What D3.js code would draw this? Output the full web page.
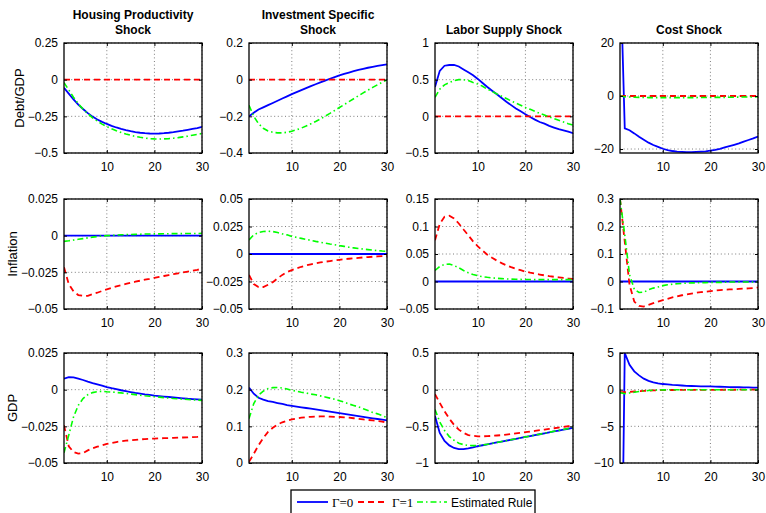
<!DOCTYPE html>
<html>
<head>
<meta charset="utf-8">
<script src="https://cdn.jsdelivr.net/npm/d3@7/dist/d3.min.js"></script>
<style>
  body { margin: 0; background: #fff; }
  svg { font-family: "Liberation Sans", Arial, Helvetica, sans-serif; }
</style>
</head>
<body>
<div id="chart"></div>
<script>
// ── Data ──────────────────────────────────────────────────────────────────────
const periods = [1,2,3,4,5,6,7,8,9,10,11,12,13,14,15,16,17,18,19,20,21,22,23,24,25,26,27,28,29,30];

const shockTitles = [
  ['Housing Productivity', 'Shock'],
  ['Investment Specific', 'Shock'],
  ['Labor Supply Shock'],
  ['Cost Shock']
];
const variableNames = ['Debt/GDP', 'Inflation', 'GDP'];
const seriesNames = ['\u0393=0', '\u0393=1', 'Estimated Rule'];

// y limits and ticks, row by row (Debt/GDP, Inflation, GDP), column by column
const yLimits = [
  [[-0.5, 0.25], [-0.4, 0.2], [-0.5, 1], [-21.5, 20]],
  [[-0.05, 0.025], [-0.05, 0.05], [-0.05, 0.15], [-0.1, 0.3]],
  [[-0.05, 0.025], [0, 0.3], [-1, 0.5], [-10, 5]]
];
const yTicks = [
  [[-0.5, -0.25, 0, 0.25], [-0.4, -0.2, 0, 0.2], [-0.5, 0, 0.5, 1], [-20, 0, 20]],
  [[-0.05, -0.025, 0, 0.025], [-0.05, -0.025, 0, 0.025, 0.05], [-0.05, 0, 0.05, 0.1, 0.15], [-0.1, 0, 0.1, 0.2, 0.3]],
  [[-0.05, -0.025, 0, 0.025], [0, 0.1, 0.2, 0.3], [-1, -0.5, 0, 0.5], [-10, -5, 0, 5]]
];
const xTicks = [10, 20, 30];

const flatZero = [0,0,0,0,0,0,0,0,0,0,0,0,0,0,0,0,0,0,0,0,0,0,0,0,0,0,0,0,0,0];

// Debt/GDP
const debtHousingG0  = [-0.055,-0.095,-0.135,-0.17,-0.2,-0.228,-0.252,-0.272,-0.288,-0.302,-0.315,-0.326,-0.336,-0.344,-0.351,-0.357,-0.362,-0.365,-0.367,-0.368,-0.367,-0.365,-0.362,-0.358,-0.353,-0.348,-0.342,-0.336,-0.33,-0.322];
const debtHousingG1  = flatZero;
const debtHousingEst = [-0.02,-0.07,-0.12,-0.165,-0.2,-0.232,-0.26,-0.283,-0.303,-0.32,-0.335,-0.348,-0.36,-0.37,-0.379,-0.387,-0.393,-0.398,-0.402,-0.404,-0.405,-0.404,-0.402,-0.399,-0.395,-0.39,-0.385,-0.379,-0.373,-0.367];

const debtInvestG0  = [-0.2,-0.18,-0.163,-0.151,-0.139,-0.127,-0.115,-0.103,-0.091,-0.079,-0.068,-0.057,-0.046,-0.035,-0.025,-0.015,-0.005,0.005,0.014,0.023,0.031,0.039,0.046,0.053,0.059,0.065,0.07,0.075,0.079,0.083];
const debtInvestG1  = flatZero;
const debtInvestEst = [-0.14,-0.2,-0.24,-0.265,-0.28,-0.287,-0.29,-0.29,-0.287,-0.281,-0.273,-0.264,-0.253,-0.241,-0.228,-0.214,-0.199,-0.184,-0.168,-0.152,-0.136,-0.12,-0.104,-0.088,-0.072,-0.057,-0.042,-0.028,-0.014,-0.001];

const debtLaborG0  = [0.4,0.62,0.69,0.7,0.7,0.68,0.64,0.6,0.56,0.51,0.455,0.4,0.35,0.3,0.25,0.2,0.153,0.108,0.068,0.027,-0.01,-0.045,-0.077,-0.1,-0.13,-0.153,-0.175,-0.19,-0.21,-0.23];
const debtLaborG1  = flatZero;
const debtLaborEst = [0.26,0.37,0.43,0.46,0.487,0.5,0.5,0.487,0.46,0.44,0.41,0.37,0.34,0.306,0.275,0.243,0.21,0.18,0.15,0.12,0.095,0.068,0.04,0.018,-0.01,-0.03,-0.054,-0.077,-0.1,-0.12];

const debtCostG0  = [52,-12.2,-12.9,-14.1,-15.4,-16.5,-17.6,-18.5,-19.2,-19.9,-20.4,-20.75,-21,-21.1,-21.2,-21.2,-21.1,-21,-20.9,-20.6,-20.3,-19.9,-19.4,-18.9,-18.4,-17.9,-17.2,-16.6,-16,-15.3];
const debtCostG1  = flatZero;
const debtCostEst = [0,-0.3,-0.4,-0.45,-0.5,-0.55,-0.6,-0.6,-0.6,-0.6,-0.6,-0.6,-0.6,-0.6,-0.6,-0.6,-0.6,-0.55,-0.55,-0.55,-0.5,-0.5,-0.5,-0.45,-0.45,-0.4,-0.4,-0.35,-0.35,-0.3];

// Inflation
const inflHousingG0  = flatZero;
const inflHousingG1  = [-0.0216,-0.033,-0.038,-0.0405,-0.041,-0.041,-0.0398,-0.0389,-0.0377,-0.0366,-0.0356,-0.0346,-0.0337,-0.0329,-0.0321,-0.0314,-0.0307,-0.03,-0.0294,-0.0287,-0.0281,-0.0275,-0.0269,-0.0263,-0.0257,-0.0251,-0.0245,-0.0239,-0.0233,-0.0226];
const inflHousingEst = [-0.0039,-0.0035,-0.003,-0.0025,-0.002,-0.0015,-0.001,-0.0006,-0.0002,0,0.0002,0.0004,0.0006,0.0007,0.0008,0.0009,0.001,0.0011,0.0011,0.0012,0.0012,0.0013,0.0013,0.0014,0.0014,0.0014,0.0015,0.0015,0.0015,0.0016];

const inflInvestG0  = flatZero;
const inflInvestG1  = [-0.019,-0.0274,-0.03,-0.03,-0.028,-0.0256,-0.0222,-0.019,-0.0165,-0.0146,-0.013,-0.0116,-0.0104,-0.0094,-0.0085,-0.0077,-0.007,-0.0064,-0.0058,-0.0053,-0.0048,-0.0043,-0.0039,-0.0035,-0.0031,-0.0028,-0.0025,-0.0022,-0.002,-0.0018];
const inflInvestEst = [0.0128,0.0174,0.0195,0.0204,0.0207,0.0204,0.0195,0.0183,0.0174,0.016,0.0151,0.0142,0.0133,0.0124,0.0115,0.0107,0.0099,0.0091,0.0084,0.0076,0.0069,0.0062,0.0056,0.005,0.0045,0.004,0.0035,0.0031,0.0027,0.0024];

const inflLaborG0  = flatZero;
const inflLaborG1  = [0.075,0.105,0.1177,0.1195,0.1146,0.1055,0.0945,0.084,0.073,0.064,0.056,0.0488,0.043,0.038,0.0335,0.0295,0.026,0.023,0.0205,0.018,0.016,0.0143,0.0127,0.0112,0.0098,0.0086,0.0075,0.0064,0.0054,0.0045];
const inflLaborEst = [0.02,0.0274,0.031,0.0317,0.029,0.025,0.02,0.0158,0.0128,0.0104,0.0088,0.0076,0.0066,0.0058,0.0052,0.0047,0.0043,0.004,0.0038,0.0036,0.0035,0.0035,0.0035,0.0035,0.0035,0.0035,0.0035,0.0035,0.0035,0.0035];

const inflCostG0  = flatZero;
const inflCostG1  = [0.3,0.145,-0.012,-0.073,-0.089,-0.091,-0.085,-0.079,-0.073,-0.068,-0.063,-0.058,-0.054,-0.05,-0.047,-0.044,-0.041,-0.039,-0.037,-0.035,-0.033,-0.031,-0.03,-0.029,-0.028,-0.027,-0.026,-0.025,-0.024,-0.022];
const inflCostEst = [0.3,0.17,0.025,-0.028,-0.04,-0.039,-0.03,-0.024,-0.02,-0.015,-0.012,-0.01,-0.008,-0.007,-0.006,-0.005,-0.005,-0.004,-0.004,-0.003,-0.003,-0.003,-0.003,-0.002,-0.002,-0.002,-0.002,-0.002,-0.002,-0.002];

// GDP
const gdpHousingG0  = [0.0075,0.0086,0.0084,0.0075,0.0066,0.0055,0.0045,0.0036,0.0027,0.0018,0.001,0.0003,-0.0004,-0.001,-0.0016,-0.0022,-0.0027,-0.0032,-0.0036,-0.0041,-0.0044,-0.0047,-0.005,-0.0053,-0.0056,-0.0059,-0.0062,-0.0064,-0.0066,-0.0068];
const gdpHousingG1  = [-0.0243,-0.0386,-0.0425,-0.0436,-0.0432,-0.0414,-0.04,-0.0389,-0.038,-0.037,-0.0363,-0.0357,-0.0352,-0.0348,-0.0345,-0.0342,-0.0339,-0.0337,-0.0335,-0.0334,-0.0332,-0.0331,-0.033,-0.0329,-0.0327,-0.0326,-0.0325,-0.0323,-0.0322,-0.032];
const gdpHousingEst = [-0.043,-0.031,-0.0186,-0.0107,-0.0061,-0.0034,-0.002,-0.0014,-0.0011,-0.0014,-0.0016,-0.0019,-0.0022,-0.0026,-0.003,-0.0034,-0.0038,-0.0042,-0.0045,-0.0048,-0.0051,-0.0054,-0.0057,-0.006,-0.0062,-0.0065,-0.0067,-0.0069,-0.0071,-0.0073];

const gdpInvestG0  = [0.2055,0.189,0.178,0.1727,0.169,0.1664,0.1636,0.161,0.158,0.156,0.154,0.152,0.15,0.148,0.146,0.144,0.142,0.14,0.138,0.136,0.134,0.132,0.13,0.128,0.126,0.124,0.122,0.12,0.118,0.116];
const gdpInvestG1  = [0.003,0.025,0.048,0.068,0.085,0.096,0.105,0.111,0.1155,0.119,0.1215,0.1235,0.125,0.126,0.1265,0.127,0.127,0.1265,0.126,0.1255,0.1245,0.1235,0.122,0.1205,0.119,0.1175,0.116,0.1145,0.113,0.109];
const gdpInvestEst = [0.121,0.162,0.185,0.196,0.203,0.2055,0.206,0.2045,0.202,0.198,0.196,0.193,0.191,0.188,0.186,0.183,0.18,0.177,0.174,0.17,0.166,0.161,0.157,0.153,0.148,0.143,0.138,0.134,0.129,0.124];

const gdpLaborG0  = [-0.36,-0.59,-0.7,-0.76,-0.795,-0.81,-0.81,-0.8,-0.786,-0.77,-0.758,-0.745,-0.733,-0.72,-0.708,-0.695,-0.683,-0.67,-0.658,-0.645,-0.633,-0.62,-0.608,-0.595,-0.583,-0.57,-0.558,-0.545,-0.533,-0.52];
const gdpLaborG1  = [-0.06,-0.18,-0.295,-0.395,-0.48,-0.545,-0.59,-0.62,-0.63,-0.636,-0.636,-0.634,-0.63,-0.625,-0.62,-0.612,-0.604,-0.596,-0.588,-0.58,-0.571,-0.562,-0.553,-0.544,-0.535,-0.526,-0.517,-0.508,-0.499,-0.49];
const gdpLaborEst = [-0.27,-0.44,-0.555,-0.64,-0.69,-0.73,-0.75,-0.76,-0.763,-0.763,-0.755,-0.745,-0.733,-0.72,-0.708,-0.695,-0.683,-0.67,-0.658,-0.645,-0.633,-0.62,-0.607,-0.594,-0.581,-0.568,-0.555,-0.542,-0.529,-0.515];

const gdpCostG0  = [-45,5,3.4,2.5,1.95,1.5,1.2,1.0,0.86,0.77,0.71,0.65,0.61,0.57,0.53,0.5,0.48,0.46,0.45,0.44,0.42,0.4,0.38,0.36,0.35,0.33,0.31,0.3,0.28,0.27];
const gdpCostG1  = [-0.35,-0.35,-0.3,-0.25,-0.2,-0.16,-0.13,-0.1,-0.08,-0.06,-0.05,-0.045,-0.04,-0.035,-0.03,-0.028,-0.025,-0.022,-0.02,-0.02,-0.018,-0.016,-0.014,-0.012,-0.01,-0.008,-0.006,-0.004,-0.002,0];
const gdpCostEst = [-0.4,-0.55,-0.45,-0.35,-0.25,-0.18,-0.12,-0.08,-0.05,-0.03,-0.02,-0.015,-0.012,-0.01,-0.01,-0.01,-0.01,-0.01,-0.01,-0.01,-0.01,-0.01,-0.01,-0.01,-0.01,-0.01,-0.01,-0.01,-0.01,-0.01];

const panelSeries = [
  [[debtHousingG0, debtHousingG1, debtHousingEst], [debtInvestG0, debtInvestG1, debtInvestEst],
   [debtLaborG0, debtLaborG1, debtLaborEst], [debtCostG0, debtCostG1, debtCostEst]],
  [[inflHousingG0, inflHousingG1, inflHousingEst], [inflInvestG0, inflInvestG1, inflInvestEst],
   [inflLaborG0, inflLaborG1, inflLaborEst], [inflCostG0, inflCostG1, inflCostEst]],
  [[gdpHousingG0, gdpHousingG1, gdpHousingEst], [gdpInvestG0, gdpInvestG1, gdpInvestEst],
   [gdpLaborG0, gdpLaborG1, gdpLaborEst], [gdpCostG0, gdpCostG1, gdpCostEst]]
];

// ── Styles ────────────────────────────────────────────────────────────────────
const lineStyles = [
  { color: '#0000ff', dash: null,      width: 1.8 },
  { color: '#ff0000', dash: '6,4',     width: 1.8 },
  { color: '#00ff00', dash: '6,3,1.5,3', width: 1.6 }
];

// ── Layout ────────────────────────────────────────────────────────────────────
const W = 766, H = 513;
const colLeft = [64, 249, 435, 620];
const rowTop = [43, 199, 353];
const panelW = 138, panelH = 110;
const ylabelX = [20, 13, 13];

const svg = d3.select('#chart').append('svg')
  .attr('width', W).attr('height', H);

const fmt = v => {
  const s = String(Math.abs(v));
  return v < 0 ? '\u2212' + s : s;
};

// column titles
shockTitles.forEach((lines, c) => {
  const cx = colLeft[c] + panelW / 2;
  const t = svg.append('text')
    .attr('x', cx)
    .attr('text-anchor', 'middle')
    .attr('font-size', 12)
    .attr('font-weight', 'bold')
    .attr('fill', '#000');
  const firstY = lines.length === 2 ? 19 : 34;
  lines.forEach((ln, i) => {
    t.append('tspan').attr('x', cx).attr('y', firstY + i * 15).text(ln);
  });
});

variableNames.forEach((name, r) => {
  const cy = rowTop[r] + panelH / 2;
  svg.append('text')
    .attr('transform', `translate(${ylabelX[r] + 4},${cy}) rotate(-90)`)
    .attr('text-anchor', 'middle')
    .attr('font-size', 13)
    .text(name);
});

// panels
panelSeries.forEach((row, r) => {
  row.forEach((series, c) => {
    const x0 = colLeft[c], y0 = rowTop[r];
    const g = svg.append('g').attr('transform', `translate(${x0},${y0})`);

    const x = d3.scaleLinear().domain([1, 30]).range([0, panelW]);
    const y = d3.scaleLinear().domain(yLimits[r][c]).range([panelH, 0]);

    const clipId = `clip-${r}-${c}`;
    g.append('clipPath').attr('id', clipId)
      .append('rect').attr('width', panelW).attr('height', panelH);

    g.append('rect').attr('width', panelW).attr('height', panelH).attr('fill', '#fff');

    // grid
    const grid = g.append('g')
      .attr('stroke', '#6e6e6e').attr('stroke-width', 0.9)
      .attr('stroke-dasharray', '1,2.6');
    xTicks.forEach(t => {
      grid.append('line').attr('x1', x(t)).attr('x2', x(t)).attr('y1', 0).attr('y2', panelH);
    });
    yTicks[r][c].forEach(t => {
      grid.append('line').attr('x1', 0).attr('x2', panelW).attr('y1', y(t)).attr('y2', y(t));
    });

    // lines
    const line = d3.line().x((d, i) => x(periods[i])).y(d => y(d));
    const lg = g.append('g').attr('clip-path', `url(#${clipId})`);
    series.forEach((vals, k) => {
      const st = lineStyles[k];
      lg.append('path')
        .attr('d', line(vals))
        .attr('fill', 'none')
        .attr('stroke', st.color)
        .attr('stroke-width', st.width)
        .attr('stroke-dasharray', st.dash);
    });

    // axes
    const ax = g.append('g').attr('transform', `translate(0,${panelH})`)
      .call(d3.axisBottom(x).tickValues(xTicks).tickSize(-3).tickPadding(9).tickFormat(d3.format('d')));
    const ay = g.append('g')
      .call(d3.axisLeft(y).tickValues(yTicks[r][c]).tickSize(-3).tickPadding(6).tickFormat(fmt));
    [ax, ay].forEach(a => {
      a.select('.domain').remove();
      a.selectAll('.tick line').attr('stroke', '#000');
      a.selectAll('.tick text').attr('font-size', 12).attr('fill', '#000')
        .attr('font-family', '"Liberation Sans", Arial, sans-serif');
    });
    // ticks on the top and right edges too
    g.append('g').call(d3.axisTop(x).tickValues(xTicks).tickSize(-3).tickFormat(''))
      .call(a => a.select('.domain').remove());
    g.append('g').attr('transform', `translate(${panelW},0)`)
      .call(d3.axisRight(y).tickValues(yTicks[r][c]).tickSize(-3).tickFormat(''))
      .call(a => a.select('.domain').remove());

    g.append('rect').attr('width', panelW).attr('height', panelH)
      .attr('fill', 'none').attr('stroke', '#000').attr('stroke-width', 1.3);
  });
});

// ── Legend ────────────────────────────────────────────────────────────────────
const leg = svg.append('g').attr('transform', 'translate(291,490)');
leg.append('rect').attr('width', 244).attr('height', 26)
  .attr('fill', '#fff').attr('stroke', '#000').attr('stroke-width', 1.3);
const legItems = [
  { x0: 6, x1: 37, tx: 41 },
  { x0: 67, x1: 96, tx: 101 },
  { x0: 126, x1: 156, tx: 160 }
];
seriesNames.forEach((name, k) => {
  const it = legItems[k], st = lineStyles[k];
  leg.append('line')
    .attr('x1', it.x0).attr('x2', it.x1).attr('y1', 12).attr('y2', 12)
    .attr('stroke', st.color).attr('stroke-width', st.width)
    .attr('stroke-dasharray', st.dash);
  leg.append('text')
    .attr('x', it.tx).attr('y', 17)
    .attr('font-family', k < 2 ? '"Liberation Serif", "Times New Roman", serif' : null)
    .attr('font-size', k < 2 ? 13 : 12)
    .text(name);
});
</script>
</body>
</html>
